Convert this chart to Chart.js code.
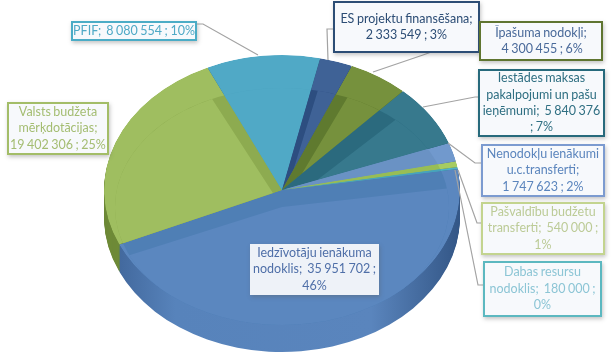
<!DOCTYPE html>
<html>
<head>
<meta charset="utf-8">
<script src="https://cdn.jsdelivr.net/npm/chart.js@4/dist/chart.umd.min.js"></script>
<style>
  html, body { margin: 0; background: #fff; }
  #wrap { position: relative; width: 615px; height: 358px; overflow: hidden; }
  canvas { position: absolute; left: 0; top: 0; }
  .lbl {
    position: absolute; box-sizing: border-box; display: flex; align-items: center; justify-content: center;
    text-align: center; font: 12.5px/16.4px Lato, sans-serif; word-spacing: -0.7px; background: #f7f9fc; white-space: pre;
    box-shadow: 1px 2px 4px rgba(90, 90, 90, .35);
  }
</style>
</head>
<body>
<div id="wrap"><canvas id="pie" width="615" height="358"></canvas></div>
<script>
const categories = ['Iedzīvotāju ienākuma nodoklis', 'Valsts budžeta mērķdotācijas', 'PFIF', 'ES projektu finansēšana', 'Īpašuma nodokļi', 'Iestādes maksas pakalpojumi un pašu ieņēmumi', 'Nenodokļu ienākumi u.c.transferti', 'Pašvaldību budžetu transferti', 'Dabas resursu nodoklis'];
const amounts = [35951702, 19402306, 8080554, 2333549, 4300455, 5840376, 1747623, 540000, 180000];
const percents = [46, 25, 10, 3, 6, 7, 2, 1, 0];

// text of each label broken the way the picture breaks it
const labelLines = [
  ['Iedzīvotāju ienākuma', 'nodoklis;  35 951 702 ;', '46%'],
  ['Valsts budžeta', 'mērķdotācijas;', '19 402 306 ; 25%'],
  ['PFIF;  8 080 554 ; 10%'],
  ['ES projektu finansēšana;', '2 333 549 ; 3%'],
  ['Īpašuma nodokļi;', ' 4 300 455 ; 6%'],
  ['Iestādes maksas', 'pakalpojumi un pašu', 'ieņēmumi;  5 840 376', '; 7%'],
  ['Nenodokļu ienākumi', 'u.c.transferti;', '1 747 623 ; 2%'],
  ['Pašvaldību budžetu', 'transferti;  540 000 ;', '1%'],
  ['Dabas resursu', 'nodoklis;  180 000 ;', '0%']
];

const faceColors = ['#5b87bf', '#9fbe60', '#50a9c6', '#3f6296', '#76913d', '#37798d', '#7199cd', '#a6cc62', '#4fb0c8'];
const wallColors = ['#4f7fb5', '#8dab50', '#4ea5c1', '#2d4e80', '#5f7a2f', '#2b6a7e', '#6a92c4', '#98bd55', '#47a3bb'];
const sideColors = ['#4f7db4', '#6e8a38', '#3f8ca5', '#2d4e80', '#5f7a2f', '#2b6a7e', '#5a80b0', '#86a84a', '#3f8ca5'];

// label boxes: left, top, width, height, border, text colour
const boxes = [
  [250, 244, 129, 51, 'transparent', '#4f6fa8'],
  [7, 102, 102, 53, '#a3bd68', '#a4bd72'],
  [71, 21, 126, 20, '#4bacc6', '#4fa9c6'],
  [333, 1, 147, 52, '#2c4d75', '#2c4d75'],
  [479, 21, 124, 40, '#5f7530', '#4a6a9a'],
  [478, 69, 127, 68, '#276a7c', '#2f6f82'],
  [481, 144, 124, 53, '#7c9bd0', '#5b85bd'],
  [481, 202, 124, 53, '#c3d48f', '#bccb97'],
  [483, 261, 119, 56, '#5cb8c0', '#8cc5d5']
];

// leader lines, same order as the boxes
const leaders = [
  null,
  null,
  [[197, 24], [203, 24], [258, 55]],
  [[333, 29], [327, 29], [328, 60]],
  [[373, 72], [423, 55], [479, 35]],
  [[423, 107], [475, 97], [478, 97]],
  [[448, 143], [475, 163], [481, 163]],
  [[458, 170], [477, 223], [481, 223]],
  [[455, 170], [478, 285], [483, 285]]
];

const centerX = 282;
const outerRx = 178, outerRy = 135, outerCy = 190;
const innerRx = 167, innerRy = 119, innerCy = 207;
const depth = 27;

// squash the library's circular arcs into an ellipse
const squash = (ctx, arc, rx, ry, cy) => {
  ctx.translate(centerX, cy);
  ctx.scale(rx / arc.outerRadius, ry / arc.outerRadius);
  ctx.translate(-arc.x, -arc.y);
};

const drawWith = (ctx, arc, color) => {
  const opts = arc.options;
  arc.options = Object.assign(Object.create(opts), { backgroundColor: color });
  arc.draw(ctx);
  arc.options = opts;
};

const pie3d = {
  id: 'pie3d',
  beforeDatasetsDraw(chart) {
    const ctx = chart.ctx;
    const arcs = chart.getDatasetMeta(0).data;

    const blueSide = ctx.createLinearGradient(104, 0, 460, 0);
    blueSide.addColorStop(0, '#3d6296');
    blueSide.addColorStop(0.2, '#5783bb');
    blueSide.addColorStop(0.75, '#5a85bd');
    blueSide.addColorStop(1, '#335686');

    for (let d = depth; d > 0; d--) {
      arcs.forEach((arc, i) => {
        ctx.save();
        squash(ctx, arc, outerRx, outerRy, outerCy + d);
        drawWith(ctx, arc, i === 0 ? blueSide : sideColors[i]);
        ctx.restore();
      });
    }

    arcs.forEach((arc, i) => {
      ctx.save();
      squash(ctx, arc, outerRx, outerRy, outerCy);
      ctx.beginPath();
      ctx.moveTo(arc.x, arc.y);
      ctx.arc(arc.x, arc.y, arc.outerRadius, arc.startAngle, arc.endAngle);
      ctx.closePath();
      ctx.restore();
      ctx.save();
      ctx.clip();

      ctx.save();
      squash(ctx, arc, outerRx, outerRy, outerCy);
      drawWith(ctx, arc, faceColors[i]);
      ctx.restore();

      // bevel wall: what is left of the inner disc around the inner face
      ctx.fillStyle = wallColors[i];
      ctx.beginPath();
      ctx.ellipse(centerX, innerCy, innerRx, innerRy, 0, 0, Math.PI * 2);
      ctx.fill();

      ctx.save();
      squash(ctx, arc, innerRx, innerRy, innerCy);
      drawWith(ctx, arc, faceColors[i]);
      ctx.restore();
      ctx.restore();
    });
    return false;
  },
  afterDraw(chart) {
    const ctx = chart.ctx;
    ctx.save();
    ctx.strokeStyle = '#a3a3a3';
    ctx.lineWidth = 1.2;
    leaders.forEach(pts => {
      if (!pts) return;
      ctx.beginPath();
      pts.forEach((p, i) => i ? ctx.lineTo(p[0], p[1]) : ctx.moveTo(p[0], p[1]));
      ctx.stroke();
    });
    ctx.restore();
  }
};

new Chart(document.getElementById('pie').getContext('2d'), {
  type: 'pie',
  data: {
    labels: categories,
    datasets: [{ data: amounts, backgroundColor: faceColors, borderWidth: 0 }],
  },
  options: {
    responsive: false,
    animation: false,
    events: [],
    rotation: 81,
    radius: 178,
    layout: { padding: { right: 51 } },
    plugins: { legend: { display: false }, tooltip: { enabled: false } },
  },
  plugins: [pie3d],
});

const wrap = document.getElementById('wrap');
boxes.forEach(([left, top, w, h, border, color], i) => {
  const el = document.createElement('div');
  el.className = 'lbl';
  el.style.cssText = `left:${left}px;top:${top}px;width:${w}px;height:${h}px;color:${color};border:2px solid ${border};` + (i === 0 ? 'background:#eef2f8;' : '');
  const span = document.createElement('span');
  span.textContent = labelLines[i].join('\n');
  el.appendChild(span);
  wrap.appendChild(el);
});
</script>
</body>
</html>
